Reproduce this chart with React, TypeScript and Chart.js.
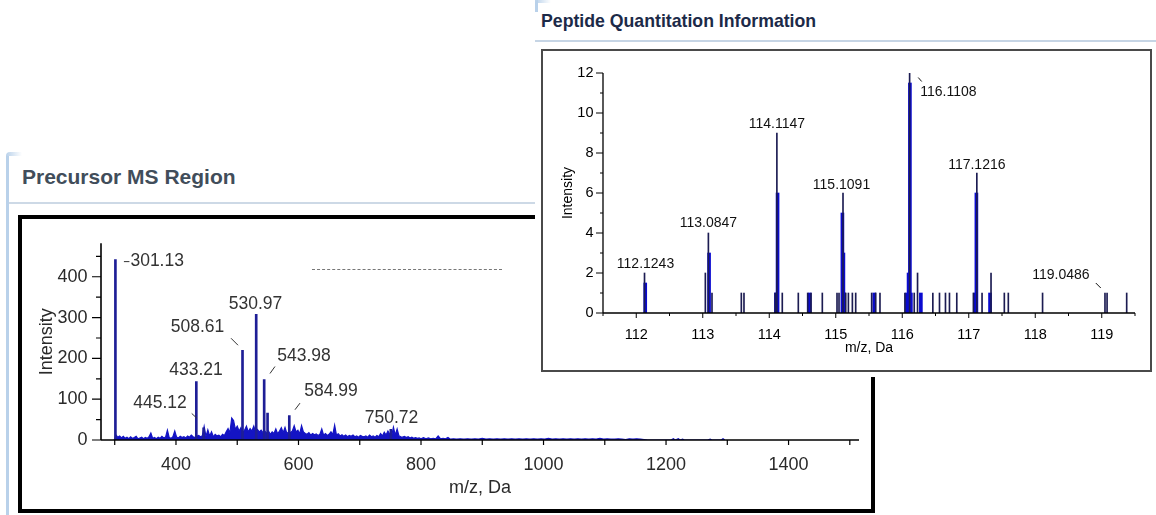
import React, { useEffect, useRef } from 'react';
import { Chart, registerables } from 'chart.js';

Chart.register(...registerables);

const FONT = '"Liberation Sans", Arial, Helvetica, sans-serif';
Chart.defaults.font.family = FONT;

// ---------------- Precursor MS Region ----------------
const preXTicks = [400, 600, 800, 1000, 1200, 1400];
const preXMinorTicks = [300, 500, 700, 900, 1100, 1300, 1500];
const preYTicks = [0, 100, 200, 300, 400];
const preYMinorTicks = [50, 150, 250, 350, 450];

const prePeakMz = [301.13, 433.21, 445.12, 508.61, 530.97, 543.98, 549.5, 584.99, 750.72];
const prePeakIntensity = [442, 143, 30, 220, 308, 148, 66, 60, 26];

const preLabelMz = [301.13, 530.97, 508.61, 543.98, 433.21, 445.12, 584.99, 750.72];
const preLabelIntensity = [442, 308, 220, 148, 143, 30, 60, 26];

// low-level signal (m/z, intensity)
const preNoise: [number, number][] = [
  [298, 0], [300, 0], [302, 12], [305, 7], [308, 10], [311, 5], [314, 9], [317, 4], [320, 7], [323, 3],
  [326, 8], [329, 4], [332, 6], [335, 9], [338, 3], [341, 5], [344, 7], [347, 3], [350, 6], [353, 4],
  [356, 8], [359, 17], [362, 4], [365, 6], [368, 3], [371, 7], [374, 4], [377, 9], [380, 5], [383, 7],
  [386, 24], [389, 6], [392, 4], [395, 8], [398, 22], [401, 7], [404, 5], [407, 9], [410, 6], [413, 8],
  [416, 5], [419, 10], [422, 7], [425, 12], [428, 8], [431, 6], [434, 9], [437, 11], [440, 8], [443, 10],
  [446, 33], [449, 9], [452, 25], [455, 10], [458, 20], [461, 8], [464, 14], [467, 10], [470, 12], [473, 8],
  [476, 14], [479, 11], [482, 20], [485, 28], [488, 18], [491, 54], [494, 48], [497, 26], [500, 34], [503, 22],
  [506, 30], [509, 18], [512, 24], [515, 34], [518, 20], [521, 28], [524, 22], [527, 34], [530, 20], [533, 26],
  [536, 20], [539, 24], [542, 18], [545, 22], [548, 16], [551, 22], [554, 14], [557, 20], [560, 16], [563, 27],
  [566, 15], [569, 22], [572, 30], [575, 18], [578, 31], [581, 16], [584, 20], [587, 18], [590, 22], [593, 35],
  [596, 20], [599, 24], [602, 15], [605, 35], [608, 20], [611, 16], [614, 14], [617, 18], [620, 12], [623, 16],
  [626, 13], [629, 15], [632, 11], [635, 14], [638, 27], [641, 12], [644, 16], [647, 11], [650, 14], [653, 20],
  [656, 13], [659, 36], [662, 12], [665, 15], [668, 10], [671, 13], [674, 9], [677, 12], [680, 8], [683, 11],
  [686, 9], [689, 12], [692, 8], [695, 10], [698, 7], [701, 11], [704, 9], [707, 8], [710, 10], [713, 7],
  [716, 12], [719, 8], [722, 10], [725, 7], [728, 11], [731, 8], [734, 16], [737, 10], [740, 19], [743, 12],
  [746, 22], [749, 14], [752, 10], [755, 31], [758, 12], [761, 27], [764, 10], [767, 8], [770, 7], [773, 9],
  [776, 6], [779, 8], [782, 5], [785, 7], [788, 4], [791, 6], [794, 4], [797, 5], [800, 3], [804, 6],
  [808, 3], [812, 5], [816, 3], [820, 4], [824, 3], [828, 10], [832, 3], [836, 4], [840, 3], [844, 6],
  [848, 2], [853, 3], [858, 2], [864, 3], [870, 2], [876, 3], [882, 2], [888, 3], [894, 2], [900, 4],
  [906, 2], [912, 3], [918, 2], [924, 3], [930, 2], [936, 3], [942, 2], [948, 3], [954, 2], [960, 3],
  [966, 2], [972, 3], [978, 2], [984, 3], [990, 2], [996, 3], [1002, 2], [1008, 4], [1014, 2], [1020, 3],
  [1026, 2], [1032, 3], [1038, 2], [1044, 3], [1050, 2], [1056, 3], [1062, 2], [1068, 3], [1074, 2], [1080, 3],
  [1086, 2], [1092, 4], [1098, 2], [1104, 3], [1110, 2], [1116, 2], [1122, 3], [1128, 2], [1134, 1], [1140, 3],
  [1146, 2], [1152, 3], [1158, 2], [1164, 1], [1170, 0], [1208, 0], [1212, 3], [1215, 0], [1220, 3], [1223, 0],
  [1227, 2], [1230, 0], [1268, 0], [1272, 2], [1275, 0], [1290, 0], [1293, 3], [1296, 0],
];

// ---------------- Peptide Quantitation Information ----------------
const pepXTicks = [112, 113, 114, 115, 116, 117, 118, 119];
const pepXMinorTicks = [111.5, 112.5, 113.5, 114.5, 115.5, 116.5, 117.5, 118.5, 119.5];
const pepYTicks = [0, 2, 4, 6, 8, 10, 12];
const pepYMinorTicks = [1, 3, 5, 7, 9, 11];

// thin dark sticks
const pepLineMz = [
  112.1243, 113.039, 113.0847, 113.139, 113.58, 113.62, 114.09, 114.1147, 114.196, 114.437,
  114.578, 114.628, 114.798, 115.019, 115.049, 115.1091, 115.15, 115.19, 115.25, 115.30,
  115.54, 115.60, 115.665, 116.04, 116.1108, 116.18, 116.23, 116.46, 116.56, 116.65,
  116.71, 116.82, 117.07, 117.1216, 117.20, 117.335, 117.535, 117.595, 118.11, 119.0486,
  119.08, 119.375,
];
const pepLineIntensity = [
  2, 2, 4, 1, 1, 1, 1, 9, 1, 1,
  1, 1, 1, 1, 1, 6, 1, 1, 1, 1,
  1, 1, 1, 1, 12, 1, 2, 1, 1, 1,
  1, 1, 1, 7, 1, 2, 1, 1, 1, 1,
  1, 1,
];
// wider blue bars
const pepBarMz = [112.135, 113.095, 114.10, 114.125, 114.608, 115.10, 115.115, 115.125, 115.58, 116.07, 116.095, 116.115, 116.13, 116.28, 117.10, 117.115, 117.32];
const pepBarIntensity = [1.5, 3, 1, 6, 1, 5, 3, 1, 1, 1, 2, 11.5, 1, 1, 1, 6, 1];

const pepLabelMz = [112.1243, 113.0847, 114.1147, 115.1091, 116.1108, 117.1216, 119.0486];
const pepLabelIntensity = [2, 4, 9, 6, 12, 7, 1];

// label placement relative to the peak top (pixels)
const PRE_LABEL_LAYOUT: any[] = [
  { dx: 15, dy: 1.5, align: 'left', leader: [8.5, 2, 14, 2] },
  { dx: -0.7, dy: -10 },
  { dx: -45, dy: -23.3, leader: [-11.5, -12, -4.5, -5] },
  { dx: 39.8, dy: -23.8, leader: [5.8, -6.1, 10.8, -13.1] },
  { dx: -0.3, dy: -11.6 },
  { dx: -43.6, dy: -24.7, leader: [-11.9, -14.3, -6.9, -9.7] },
  { dx: 41.7, dy: -24.1, leader: [5.7, -5.8, 10.7, -12.4] },
  { dx: 0.7, dy: -11.3 },
];
const PEP_LABEL_LAYOUT: any[] = [
  { dx: 1, dy: -9 },
  { dx: 0, dy: -10 },
  { dx: 0, dy: -9 },
  { dx: -1.5, dy: -8 },
  { dx: 10.6, dy: 18.7, align: 'left', leader: [8.6, 4.5, 12.1, 8.5] },
  { dx: 0, dy: -8 },
  { dx: -44, dy: -18, leader: [-9.2, -10, -4.2, -5] },
];

function axesPlugin(o: any) {
  return {
    id: 'customAxes',
    afterDatasetsDraw(chart: any) {
      const { ctx, chartArea: a, scales } = chart;
      const x = scales.x, y = scales.y;
      ctx.save();
      ctx.strokeStyle = o.color;
      ctx.lineWidth = o.axisWidth;
      ctx.beginPath();
      ctx.moveTo(a.left, a.bottom);
      ctx.lineTo(a.right, a.bottom);
      ctx.moveTo(a.left, a.top);
      ctx.lineTo(a.left, a.bottom);
      ctx.stroke();
      ctx.lineWidth = o.tickWidth;
      ctx.beginPath();
      const xt = (vals: number[], len: number) => vals.forEach((v) => {
        const px = x.getPixelForValue(v);
        ctx.moveTo(px, a.bottom);
        ctx.lineTo(px, a.bottom + len);
      });
      const yt = (vals: number[], len: number) => vals.forEach((v) => {
        const py = y.getPixelForValue(v);
        ctx.moveTo(a.left, py);
        ctx.lineTo(a.left - len, py);
      });
      xt(o.xMajor, o.xMajorLen);
      xt(o.xMinor, o.xMinorLen);
      yt(o.yMajor, o.yMajorLen);
      yt(o.yMinor, o.yMinorLen);
      ctx.stroke();
      ctx.restore();
    },
  };
}

function labelsPlugin(mzs: number[], ints: number[], digits: number, layout: any[], font: string, color: string) {
  return {
    id: 'peakLabels',
    afterDatasetsDraw(chart: any) {
      const { ctx, scales } = chart;
      const x = scales.x, y = scales.y;
      ctx.save();
      ctx.font = font;
      ctx.fillStyle = color;
      ctx.strokeStyle = color;
      ctx.lineWidth = 1;
      ctx.textBaseline = 'middle';
      mzs.forEach((mz, i) => {
        const L = layout[i];
        const px = x.getPixelForValue(mz);
        const py = y.getPixelForValue(ints[i]);
        ctx.textAlign = L.align || 'center';
        ctx.fillText(mz.toFixed(digits), px + L.dx, py + L.dy);
        if (L.leader) {
          ctx.beginPath();
          ctx.moveTo(px + L.leader[0], py + L.leader[1]);
          ctx.lineTo(px + L.leader[2], py + L.leader[3]);
          ctx.stroke();
        }
      });
      ctx.restore();
    },
  };
}

function precursorConfig(): any {
  return {
    type: 'bar',
    data: {
      datasets: [
        {
          type: 'line',
          data: preNoise.map(([x, y]) => ({ x, y })),
          borderColor: '#1414c4',
          backgroundColor: '#1414c4',
          borderWidth: 1.2,
          pointRadius: 0,
          fill: 'origin',
          tension: 0,
          order: 2,
        },
        {
          type: 'bar',
          data: prePeakMz.map((x, i) => ({ x, y: prePeakIntensity[i] })),
          backgroundColor: '#1e1e96',
          barThickness: 2,
          grouped: false,
          order: 1,
        },
      ],
    },
    options: {
      animation: false,
      responsive: false,
      maintainAspectRatio: false,
      layout: { padding: { left: 0, right: 12, top: 13, bottom: 0 } },
      plugins: { legend: { display: false }, tooltip: { enabled: false } },
      scales: {
        x: {
          type: 'linear', min: 277.6, max: 1515, offset: false,
          grid: { display: false, drawTicks: false }, border: { display: false },
          afterBuildTicks: (s: any) => { s.ticks = preXTicks.map((v) => ({ value: v })); },
          afterFit: (s: any) => { s.height = 69; },
          ticks: { padding: 14.2, color: '#2a2a2a', font: { size: 18 }, maxRotation: 0, autoSkip: false, callback: (v: any) => String(v) },
          title: { display: true, text: 'm/z, Da', color: '#2a2a2a', font: { size: 18 }, padding: { top: 0, bottom: 10.5 } },
        },
        y: {
          min: 0, max: 482,
          grid: { display: false, drawTicks: false }, border: { display: false },
          afterBuildTicks: (s: any) => { s.ticks = preYTicks.map((v) => ({ value: v })); },
          afterFit: (s: any) => { s.width = 79; },
          ticks: { padding: 13.5, color: '#2a2a2a', font: { size: 18 }, autoSkip: false, callback: (v: any) => String(v) },
          title: { display: true, text: 'Intensity', color: '#2a2a2a', font: { size: 18 }, padding: { top: 13.9, bottom: 0 } },
        },
      },
    },
    plugins: [
      axesPlugin({ color: '#000', axisWidth: 1.6, tickWidth: 1.2, xMajor: preXTicks, xMinor: preXMinorTicks, yMajor: preYTicks, yMinor: preYMinorTicks, xMajorLen: 5, xMinorLen: 5, yMajorLen: 9, yMinorLen: 5 }),
      labelsPlugin(preLabelMz, preLabelIntensity, 2, PRE_LABEL_LAYOUT, `17.5px ${FONT}`, '#333'),
    ],
  };
}

function peptideConfig(): any {
  return {
    type: 'bar',
    data: {
      datasets: [
        {
          data: pepBarMz.map((x, i) => ({ x, y: pepBarIntensity[i] })),
          backgroundColor: '#0a0ad0',
          barThickness: 3,
          grouped: false,
          order: 2,
        },
        {
          data: pepLineMz.map((x, i) => ({ x, y: pepLineIntensity[i] })),
          backgroundColor: '#1c1c52',
          barThickness: 1,
          grouped: false,
          order: 1,
        },
      ],
    },
    options: {
      animation: false,
      responsive: false,
      maintainAspectRatio: false,
      layout: { padding: { left: 0, right: 15, top: 22, bottom: 0 } },
      plugins: { legend: { display: false }, tooltip: { enabled: false } },
      scales: {
        x: {
          type: 'linear', min: 111.5, max: 119.5, offset: false,
          grid: { display: false, drawTicks: false }, border: { display: false },
          afterBuildTicks: (s: any) => { s.ticks = pepXTicks.map((v) => ({ value: v })); },
          afterFit: (s: any) => { s.height = 57; },
          ticks: { padding: 13.6, color: '#000', font: { size: 14.5 }, maxRotation: 0, autoSkip: false, callback: (v: any) => String(v) },
          title: { display: true, text: 'm/z, Da', color: '#000', font: { size: 14 }, padding: { top: 0, bottom: 13.6 } },
        },
        y: {
          min: 0, max: 12,
          grid: { display: false, drawTicks: false }, border: { display: false },
          afterBuildTicks: (s: any) => { s.ticks = pepYTicks.map((v) => ({ value: v })); },
          afterFit: (s: any) => { s.width = 60; },
          ticks: { padding: 9.5, color: '#000', font: { size: 14.5 }, autoSkip: false, callback: (v: any) => String(v) },
          title: { display: true, text: 'Intensity', color: '#000', font: { size: 14 }, padding: { top: 16.6, bottom: 0 } },
        },
      },
    },
    plugins: [
      axesPlugin({ color: '#000', axisWidth: 1.3, tickWidth: 1, xMajor: pepXTicks, xMinor: pepXMinorTicks, yMajor: pepYTicks, yMinor: pepYMinorTicks, xMajorLen: 5, xMinorLen: 3, yMajorLen: 7, yMinorLen: 3 }),
      labelsPlugin(pepLabelMz, pepLabelIntensity, 4, PEP_LABEL_LAYOUT, `14px ${FONT}`, '#111'),
    ],
  };
}

export default function App() {
  const preRef = useRef<HTMLCanvasElement>(null);
  const pepRef = useRef<HTMLCanvasElement>(null);

  useEffect(() => {
    document.body.style.margin = '0';
    const c1 = new Chart(preRef.current as HTMLCanvasElement, precursorConfig());
    const c2 = new Chart(pepRef.current as HTMLCanvasElement, peptideConfig());
    return () => {
      c1.destroy();
      c2.destroy();
    };
  }, []);

  return (
    <div style={{ position: 'fixed', left: 0, top: 0, width: 1156, height: 515, overflow: 'hidden', background: '#fff', fontFamily: FONT }}>
      {/* Precursor MS Region panel */}
      <div style={{ position: 'absolute', left: 6, top: 156, width: 3, height: 360, background: '#b9d1ea' }} />
      <div style={{ position: 'absolute', left: 6, top: 152, width: 16, height: 4, borderTopLeftRadius: 4, background: 'linear-gradient(90deg, #b9d1ea, rgba(185,209,234,0))' }} />
      <div style={{ position: 'absolute', left: 22, top: 165, fontSize: 21, lineHeight: '24px', fontWeight: 'bold', color: '#414d5a', whiteSpace: 'nowrap' }}>
        Precursor MS Region
      </div>
      <div style={{ position: 'absolute', left: 9, top: 202, width: 530, height: 2, background: '#cdd9e6' }} />
      <div style={{ position: 'absolute', left: 18, top: 215, width: 857, height: 298, border: '4px solid #000', boxSizing: 'border-box', background: '#fff' }}>
        <canvas ref={preRef} width={849} height={290} style={{ display: 'block', width: 849, height: 290 }} />
      </div>
      <div style={{ position: 'absolute', left: 312, top: 269, width: 190, height: 0, borderTop: '1px dashed #777' }} />

      {/* Peptide Quantitation Information panel */}
      <div style={{ position: 'absolute', left: 535, top: 0, width: 621, height: 377, background: '#fff' }}>
        <div style={{ position: 'absolute', left: 0, top: 0, width: 3, height: 12, background: '#b9d1ea', borderTopLeftRadius: 3 }} />
        <div style={{ position: 'absolute', left: 0, top: 0, width: 16, height: 3, background: 'linear-gradient(90deg, #b9d1ea, rgba(185,209,234,0))' }} />
        <div style={{ position: 'absolute', left: 6, top: 10, fontSize: 17.7, lineHeight: '22px', fontWeight: 'bold', color: '#1c2a48', whiteSpace: 'nowrap' }}>
          Peptide Quantitation Information
        </div>
        <div style={{ position: 'absolute', left: 0, top: 40, width: 621, height: 2, background: '#c6d5e5' }} />
        <div style={{ position: 'absolute', left: 6, top: 49, width: 611, height: 323, border: '2px solid #4a4a4a', boxSizing: 'border-box', background: '#fff' }}>
          <canvas ref={pepRef} width={607} height={319} style={{ display: 'block', width: 607, height: 319 }} />
        </div>
      </div>
    </div>
  );
}
